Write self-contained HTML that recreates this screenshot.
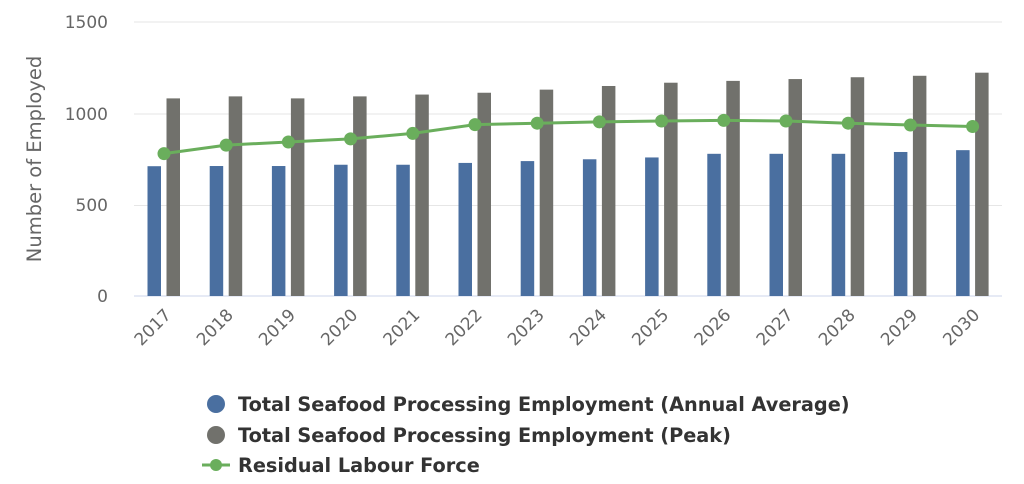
<!DOCTYPE html>
<html><head><meta charset="utf-8"><style>
body{margin:0;background:#fff;}
svg{display:block;font-family:"DejaVu Sans","Liberation Sans",sans-serif;}
</style></head><body>
<svg width="1024" height="484" viewBox="0 0 1024 484" xmlns="http://www.w3.org/2000/svg">
<g stroke="#e6e6e6" stroke-width="1">
<line x1="134" y1="22" x2="1002" y2="22"/>
<line x1="134" y1="114" x2="1002" y2="114"/>
<line x1="134" y1="205.5" x2="1002" y2="205.5"/>
</g>
<line x1="134" y1="296" x2="1002" y2="296" stroke="#ccd6eb" stroke-width="1"/>
<g fill="#666" font-size="17" text-anchor="end">
<text x="108" y="28">1500</text>
<text x="108" y="120">1000</text>
<text x="108" y="211">500</text>
<text x="108" y="302">0</text>
</g>
<text transform="translate(41,159) rotate(-90)" text-anchor="middle" fill="#666" font-size="19.5">Number of Employed</text>
<g id="bars"></g>
<g id="line"></g>
<g id="labels" fill="#666" font-size="17" text-anchor="end"></g>
<g font-size="19.3" font-weight="bold" fill="#333">
<circle cx="216" cy="404" r="9" fill="#4a6fa0"/>
<text x="238" y="411">Total Seafood Processing Employment (Annual Average)</text>
<circle cx="216" cy="435" r="9" fill="#71716c"/>
<text x="238" y="442">Total Seafood Processing Employment (Peak)</text>
<line x1="202" y1="465" x2="230" y2="465" stroke="#6aae5c" stroke-width="3"/>
<circle cx="216" cy="465" r="6" fill="#6aae5c"/>
<text x="238" y="472">Residual Labour Force</text>
</g>
<script>
var blue=[712,713,713,720,720,730,740,750,760,780,780,780,790,800];
var gray=[1084,1095,1084,1095,1105,1115,1132,1152,1170,1180,1190,1200,1208,1225];
var line=[781,828,845,862,892,940,948,955,960,963,960,948,938,930];
var ns="http://www.w3.org/2000/svg";
function y(v){return 296-v*0.1823;}
var b=document.getElementById("bars"),l=document.getElementById("line"),lb=document.getElementById("labels");
function el(p,t,a){var e=document.createElementNS(ns,t);for(var k in a)e.setAttribute(k,a[k]);p.appendChild(e);return e;}
var pts=[];
for(var i=0;i<14;i++){var c=164+i*62.2;
el(b,"rect",{x:c-16.5,y:y(blue[i]),width:13.5,height:296-y(blue[i]),fill:"#4a6fa0"});
el(b,"rect",{x:c+2.5,y:y(gray[i]),width:13.5,height:296-y(gray[i]),fill:"#71716c"});
pts.push(c+","+y(line[i]).toFixed(1));
var t=el(lb,"text",{transform:"translate("+(c+8)+",316) rotate(-45)"});t.textContent=2017+i;}
el(l,"polyline",{points:pts.join(" "),fill:"none",stroke:"#6aae5c","stroke-width":3});
pts.forEach(function(p){var q=p.split(",");el(l,"circle",{cx:q[0],cy:q[1],r:6.5,fill:"#6aae5c"});});
</script>
</svg>
</body></html>
